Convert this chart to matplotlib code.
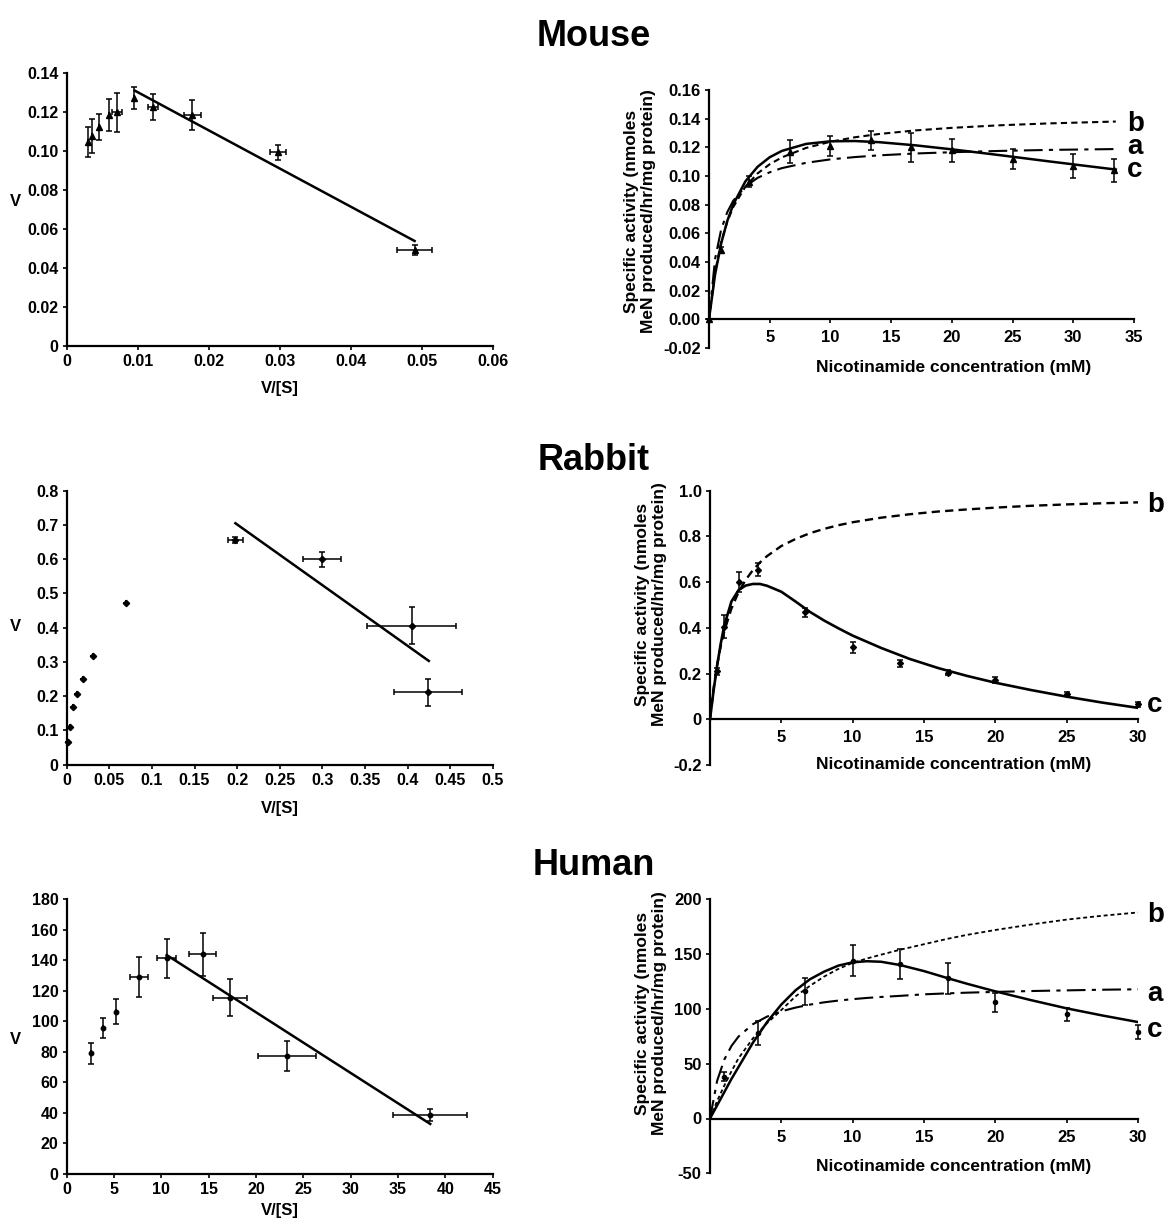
import matplotlib
matplotlib.use("Agg")
import matplotlib.pyplot as plt

plt.rcParams['font.family'] = ['Liberation Sans', 'DejaVu Sans']
plt.rcParams['font.weight'] = 'bold'

W, H = 1164, 1219

# ---------------- data ----------------
# Mouse, Eadie-Hofstee
ms_vs = [0.0030, 0.0035, 0.0045, 0.0059, 0.0071, 0.0095, 0.0122, 0.0177, 0.0298, 0.0490]
ms_v = [0.1047, 0.1076, 0.1120, 0.1183, 0.1197, 0.1270, 0.1226, 0.1183, 0.0992, 0.0492]
ms_verr = [0.0077, 0.0088, 0.0067, 0.0081, 0.0100, 0.0057, 0.0066, 0.0077, 0.0037, 0.0024]
ms_vserr = [0, 0, 0, 0, 0.0007, 0, 0.0007, 0.0012, 0.0011, 0.0025]
ms_line_x = [0.0096, 0.0490]
ms_line_y = [0.1308, 0.0538]

# Mouse, activity vs nicotinamide
ms_s = [0, 1, 3.33, 6.67, 10, 13.33, 16.67, 20, 25, 30, 33.33]
ms_act = [0, 0.0484, 0.096, 0.117, 0.121, 0.125, 0.120, 0.118, 0.1116, 0.107, 0.104]
ms_acterr = [0, 0.002, 0.004, 0.008, 0.007, 0.0067, 0.010, 0.008, 0.007, 0.0085, 0.008]
ms_cx = [0, 0.5, 1, 1.5, 2, 3, 4, 5, 6, 8, 10, 12, 14, 17, 20, 24, 28, 33.5]
ms_a = [0, 0.0421, 0.0626, 0.0747, 0.0828, 0.0927, 0.0987, 0.1026, 0.1055, 0.1092, 0.1116,
        0.1132, 0.1144, 0.1157, 0.1166, 0.1175, 0.1182, 0.1188]
ms_b = [0, 0.033, 0.0537, 0.068, 0.0784, 0.0926, 0.1018, 0.1082, 0.113, 0.1196, 0.1239,
        0.127, 0.1293, 0.1318, 0.1336, 0.1354, 0.1367, 0.138]
ms_c = [0, 0.0313, 0.0529, 0.0685, 0.0802, 0.0963, 0.1064, 0.1131, 0.1175, 0.1224, 0.1242,
        0.1244, 0.1236, 0.1214, 0.1186, 0.1145, 0.1102, 0.1045]

# Rabbit, Eadie-Hofstee
rb_vs = [0.001, 0.004, 0.0078, 0.0117, 0.0188, 0.0313, 0.0696, 0.198, 0.2997, 0.405, 0.424]
rb_v = [0.065, 0.111, 0.169, 0.205, 0.249, 0.318, 0.471, 0.656, 0.600, 0.406, 0.211]
rb_verr = [0, 0, 0, 0, 0, 0, 0, 0.008, 0.022, 0.053, 0.040]
rb_vserr = [0, 0, 0, 0, 0, 0, 0, 0.009, 0.022, 0.052, 0.040]
rb_line_x = [0.198, 0.425]
rb_line_y = [0.705, 0.303]

# Rabbit, activity vs nicotinamide
rb_s = [0.5, 1, 2, 3.33, 6.67, 10, 13.33, 16.67, 20, 25, 30]
rb_act = [0.21, 0.405, 0.600, 0.655, 0.468, 0.315, 0.245, 0.204, 0.172, 0.112, 0.065]
rb_acterr = [0.015, 0.05, 0.045, 0.028, 0.02, 0.025, 0.015, 0.01, 0.015, 0.008, 0.01]
rb_cx = [0, 0.25, 0.5, 0.75, 1, 1.5, 2, 2.5, 3, 3.5, 4, 5, 6, 7, 8, 9, 10, 12, 14, 16, 18,
         20, 22.5, 25, 27.5, 30]
rb_b = [0, 0.135, 0.238, 0.319, 0.385, 0.484, 0.556, 0.610, 0.652, 0.686, 0.714, 0.758, 0.789,
        0.814, 0.833, 0.849, 0.862, 0.882, 0.897, 0.909, 0.918, 0.926, 0.934, 0.940, 0.945, 0.949]
rb_c = [0, 0.125, 0.235, 0.33, 0.41, 0.515, 0.565, 0.585, 0.592, 0.592, 0.584, 0.558, 0.515,
        0.47, 0.432, 0.398, 0.366, 0.312, 0.264, 0.224, 0.19, 0.16, 0.128, 0.099, 0.073, 0.05]

# Human, Eadie-Hofstee
hu_vs = [2.57, 3.8, 5.25, 7.68, 10.56, 14.37, 17.25, 23.3, 38.4]
hu_v = [79.1, 95.5, 106.4, 128.9, 141.3, 144.0, 115.6, 77.3, 38.7]
hu_verr = [7, 6.5, 8, 13, 13, 14, 12, 10, 4]
hu_vserr = [0, 0, 0, 0.95, 1.0, 1.45, 1.8, 3.05, 3.9]
hu_line_x = [10.56, 38.4]
hu_line_y = [143.5, 32.8]

# Human, activity vs nicotinamide
hu_s = [1, 3.33, 6.67, 10, 13.33, 16.67, 20, 25, 30]
hu_act = [38, 78, 116, 144, 141, 128, 106, 95, 79]
hu_acterr = [4, 11, 12, 14, 14, 14, 8.5, 6, 6.5]
hu_cx = [0, 0.5, 1, 1.5, 2, 3, 4, 5, 6, 7, 8, 9, 10, 11, 12, 13.33, 15, 16.67, 18, 20,
         22.5, 25, 27.5, 30]
hu_a = [0, 34.4, 53.7, 66.1, 74.8, 86.0, 93.0, 97.8, 101.2, 103.9, 106.0, 107.6, 108.9, 110.0,
        110.9, 111.9, 113.3, 114.2, 114.8, 115.5, 116.3, 116.9, 117.5, 117.9]
hu_b = [0, 16, 30, 43, 55, 73, 87, 99, 111.5, 121, 129.5, 136.5, 142, 146, 149.5, 154, 159,
        164, 167.5, 172, 177, 181.5, 185, 188]
hu_c = [0, 12, 24, 36, 47, 69, 88, 104, 117, 127, 134, 139.5, 142.5, 143.5, 143, 140, 134.5,
        128, 123, 116, 108, 100.5, 94, 88]

titles = ["Mouse", "Rabbit", "Human"]
right_ylabel = "Specific activity (nmoles\nMeN produced/hr/mg protein)"
right_xlabel = "Nicotinamide concentration (mM)"

# ---------------- figure ----------------
fig = plt.figure(figsize=(W / 100, H / 100), dpi=100)


def rect(x0, x1, ytop, ybot):
    return [x0 / W, 1 - ybot / H, (x1 - x0) / W, (ybot - ytop) / H]


def fx(px):
    return px / W


def fy(py):
    return 1 - py / H


def style(ax, fs=11):
    for s in ['top', 'right']:
        ax.spines[s].set_visible(False)
    for s in ['left', 'bottom']:
        ax.spines[s].set_linewidth(1.6)
    ax.tick_params(direction='out', length=3, width=1.2, labelsize=fs, pad=3)
    for lab in ax.get_xticklabels() + ax.get_yticklabels():
        lab.set_fontweight('bold')


EB = dict(fmt='none', ecolor='black', elinewidth=1.1, capsize=2.2, capthick=1.1, clip_on=False)


def eadie(ax, vs, v, vserr, verr, lx, ly, xlim, ylim, xt, xtl, yt, ytl, marker, ms):
    ax.errorbar(vs, v, yerr=verr, xerr=vserr, **EB)
    ax.plot(vs, v, linestyle='none', marker=marker, ms=ms, color='black', clip_on=False)
    ax.plot(lx, ly, color='black', lw=1.8)
    ax.set_xlim(*xlim)
    ax.set_ylim(*ylim)
    ax.set_xticks(xt)
    ax.set_xticklabels(xtl)
    ax.set_yticks(yt)
    ax.set_yticklabels(ytl)
    style(ax, 11.5)


def activity(ax, s, act, err, marker, ms, xlim, ylim, yt, ytl, xt):
    ax.errorbar(s, act, yerr=err, **EB)
    ax.plot(s, act, linestyle='none', marker=marker, ms=ms, color='black', clip_on=False)
    ax.set_xlim(*xlim)
    ax.set_ylim(*ylim)
    ax.spines['bottom'].set_position(('data', 0))
    ax.set_xticks(xt)
    ax.set_xticklabels([str(t) for t in xt])
    ax.set_yticks(yt)
    ax.set_yticklabels(ytl)
    style(ax, 12)
    ax.tick_params(axis='x', pad=5)


# ---- Mouse ----
axL = fig.add_axes(rect(66.7, 492.7, 72.7, 346))
eadie(axL, ms_vs, ms_v, ms_vserr, ms_verr, ms_line_x, ms_line_y, (0, 0.06), (0, 0.14),
      [0, 0.01, 0.02, 0.03, 0.04, 0.05, 0.06], ['0', '0.01', '0.02', '0.03', '0.04', '0.05', '0.06'],
      [0, 0.02, 0.04, 0.06, 0.08, 0.10, 0.12, 0.14],
      ['0', '0.02', '0.04', '0.06', '0.08', '0.10', '0.12', '0.14'], '^', 4.5)

axR = fig.add_axes(rect(709, 1134, 90, 348))
axR.plot(ms_cx, ms_b, color='black', lw=1.5, linestyle=(0, (3, 2)))
axR.plot(ms_cx, ms_a, color='black', lw=1.5, linestyle=(0, (9, 3, 2, 3)))
axR.plot(ms_cx, ms_c, color='black', lw=1.8)
activity(axR, ms_s, ms_act, ms_acterr, '^', 5, (0, 35), (-0.02, 0.16),
         [-0.02, 0, 0.02, 0.04, 0.06, 0.08, 0.10, 0.12, 0.14, 0.16],
         ['-0.02', '0.00', '0.02', '0.04', '0.06', '0.08', '0.10', '0.12', '0.14', '0.16'],
         [5, 10, 15, 20, 25, 30, 35])

# ---- Rabbit ----
axL2 = fig.add_axes(rect(66.7, 492.7, 490.7, 764.7))
eadie(axL2, rb_vs, rb_v, rb_vserr, rb_verr, rb_line_x, rb_line_y, (0, 0.5), (0, 0.8),
      [0, 0.05, 0.1, 0.15, 0.2, 0.25, 0.3, 0.35, 0.4, 0.45, 0.5],
      ['0', '0.05', '0.1', '0.15', '0.2', '0.25', '0.3', '0.35', '0.4', '0.45', '0.5'],
      [0, 0.1, 0.2, 0.3, 0.4, 0.5, 0.6, 0.7, 0.8],
      ['0', '0.1', '0.2', '0.3', '0.4', '0.5', '0.6', '0.7', '0.8'], 'D', 3.2)

axR2 = fig.add_axes(rect(710, 1138, 490.7, 765))
axR2.plot(rb_cx, rb_b, color='black', lw=1.7, linestyle=(0, (3.5, 2.2)))
axR2.plot(rb_cx, rb_c, color='black', lw=1.9)
activity(axR2, rb_s, rb_act, rb_acterr, 'D', 3, (0, 30), (-0.2, 1.0),
         [-0.2, 0, 0.2, 0.4, 0.6, 0.8, 1.0], ['-0.2', '0', '0.2', '0.4', '0.6', '0.8', '1.0'],
         [5, 10, 15, 20, 25, 30])

# ---- Human ----
axL3 = fig.add_axes(rect(66.7, 492.7, 899.3, 1174))
eadie(axL3, hu_vs, hu_v, hu_vserr, hu_verr, hu_line_x, hu_line_y, (0, 45), (0, 180),
      list(range(0, 50, 5)), [str(t) for t in range(0, 50, 5)],
      list(range(0, 200, 20)), [str(t) for t in range(0, 200, 20)], 'o', 3.2)

axR3 = fig.add_axes(rect(710, 1138, 899.3, 1173.3))
axR3.plot(hu_cx, hu_b, color='black', lw=1.3, linestyle=(0, (2.2, 1.6)))
axR3.plot(hu_cx, hu_a, color='black', lw=1.5, linestyle=(0, (9, 3, 2, 3)))
axR3.plot(hu_cx, hu_c, color='black', lw=1.8)
activity(axR3, hu_s, hu_act, hu_acterr, 'o', 3, (0, 30), (-50, 200),
         [-50, 0, 50, 100, 150, 200], ['-50', '0', '50', '100', '150', '200'],
         [5, 10, 15, 20, 25, 30])

# ---- texts ----
for t, yb in zip(titles, [46, 470, 875]):
    fig.text(fx(594), fy(yb), t, ha='center', va='baseline', fontsize=26, fontweight='bold')

for yc in [202, 627, 1040]:
    fig.text(fx(15), fy(yc), "V", ha='center', va='center', fontsize=12, fontweight='bold')
for yc in [388, 808, 1210]:
    fig.text(fx(280), fy(yc), "V/[S]", ha='center', va='center', fontsize=12, fontweight='bold')

for xc, yc in [(640, 211), (651, 604), (651, 1013)]:
    fig.text(fx(xc), fy(yc), right_ylabel, ha='center', va='center', rotation=90,
             fontsize=12.5, fontweight='bold', linespacing=1.15, multialignment='center')
for yc in [368, 765, 1166]:
    fig.text(fx(954), fy(yc), right_xlabel, ha='center', va='center', fontsize=12.5,
             fontweight='bold')

# curve labels (stacked labels drawn as one multi-line text)
curve_labels = [("b\na\nc", 1127, 177, 0.86), ("b", 1147, 512, 1.0), ("c", 1147, 712.5, 1.0),
                ("b", 1147, 921.7, 1.0), ("a\nc", 1147, 1036.7, 1.5)]
for lab, x, y, ls in curve_labels:
    fig.text(fx(x), fy(y), lab, ha='left', va='baseline', fontsize=20, fontweight='bold',
             linespacing=ls)

fig.savefig("out.png", dpi=100)
